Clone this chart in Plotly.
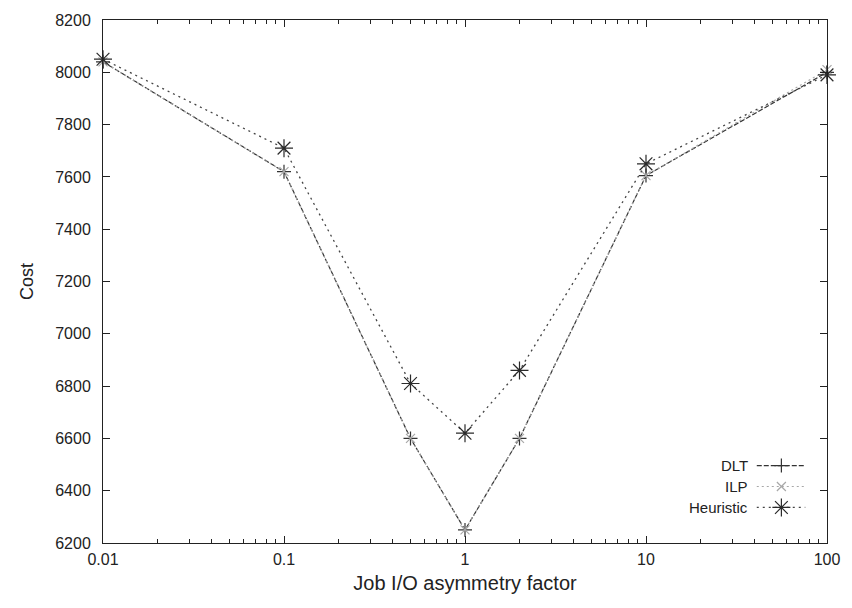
import plotly.graph_objects as go

# Job I/O asymmetry factor (log scale) and resulting cost per scheduler
asymmetry = [0.01, 0.1, 0.5, 1, 2, 10, 100]
cost_dlt = [8040, 7620, 6600, 6250, 6600, 7605, 8000]
cost_ilp = [8040, 7620, 6600, 6250, 6600, 7605, 8010]
cost_heuristic = [8050, 7710, 6810, 6620, 6860, 7650, 7990]

series_names = ["DLT", "ILP", "Heuristic"]
x_tick_vals = [0.01, 0.1, 1, 10, 100]
x_tick_text = ["0.01", "0.1", "1", "10", "100"]
y_tick_vals = [6200, 6400, 6600, 6800, 7000, 7200, 7400, 7600, 7800, 8000, 8200]

FONT = "Liberation Sans, Arial, Helvetica, sans-serif"

styles = {
    "DLT": dict(line=dict(color="#333333", width=1.2, dash="5px,2px"),
                marker=dict(symbol="cross-thin", size=10, color="#333333",
                            line=dict(width=1.2, color="#333333"))),
    "ILP": dict(line=dict(color="#a8a8a8", width=1.2, dash="2px,3px"),
                marker=dict(symbol="x-thin", size=9, color="#a8a8a8",
                            line=dict(width=1.2, color="#a8a8a8"))),
    "Heuristic": dict(line=dict(color="#444444", width=1.3, dash="2px,4px"),
                      marker=dict(symbol="asterisk-open", size=15, color="#2a2a2a",
                                  line=dict(width=1.2, color="#2a2a2a"))),
}

fig = go.Figure()
for name, ys in zip(series_names, [cost_dlt, cost_ilp, cost_heuristic]):
    fig.add_trace(go.Scatter(x=asymmetry, y=ys, mode="lines+markers", name=name,
                             line=styles[name]["line"], marker=styles[name]["marker"],
                             showlegend=False, cliponaxis=False))

# gnuplot-style key: right-aligned labels with line samples to their right
key_y = [0.148, 0.108, 0.068]
for name, ky in zip(series_names, key_y):
    fig.add_annotation(xref="paper", yref="paper", x=0.893, y=ky, text=name,
                       showarrow=False, xanchor="right", yanchor="middle",
                       font=dict(family=FONT, size=15, color="#222"))
    fig.add_trace(go.Scatter(x=[0.903, 0.97], y=[ky, ky], xaxis="x2", yaxis="y2",
                             mode="lines", line=styles[name]["line"],
                             showlegend=False, hoverinfo="skip"))
    fig.add_trace(go.Scatter(x=[0.937], y=[ky], xaxis="x2", yaxis="y2",
                             mode="markers", marker=styles[name]["marker"],
                             showlegend=False, hoverinfo="skip"))

minor_vals = [m * 10 ** e for e in (-2, -1, 0, 1) for m in range(2, 10)]

fig.update_layout(
    width=852, height=608,
    margin=dict(l=103, r=23, t=17, b=65),
    paper_bgcolor="white", plot_bgcolor="white",
    font=dict(family=FONT, size=16, color="#222"),
    xaxis=dict(type="log", range=[-2, 2], tickvals=x_tick_vals, ticktext=x_tick_text,
               ticks="inside", ticklen=7, tickcolor="#222", showline=True,
               linecolor="#222", linewidth=1, mirror="allticks", showgrid=False,
               zeroline=False, ticklabelstandoff=2,
               minor=dict(tickvals=minor_vals, ticks="inside", ticklen=4,
                          tickcolor="#222", showgrid=False),
               title=dict(text="Job I/O asymmetry factor", font=dict(size=20), standoff=8),
               tickfont=dict(size=16)),
    yaxis=dict(range=[6200, 8200], tickvals=y_tick_vals, ticks="inside", ticklen=7,
               tickcolor="#222", showline=True, linecolor="#222", linewidth=1,
               mirror="allticks", showgrid=False, zeroline=False,
               ticklabelstandoff=8,
               title=dict(text="Cost", font=dict(size=18), standoff=16),
               tickfont=dict(size=16)),
    xaxis2=dict(overlaying="x", range=[0, 1], visible=False, domain=[0, 1]),
    yaxis2=dict(overlaying="y", range=[0, 1], visible=False),
)

fig.write_html("out.html")
